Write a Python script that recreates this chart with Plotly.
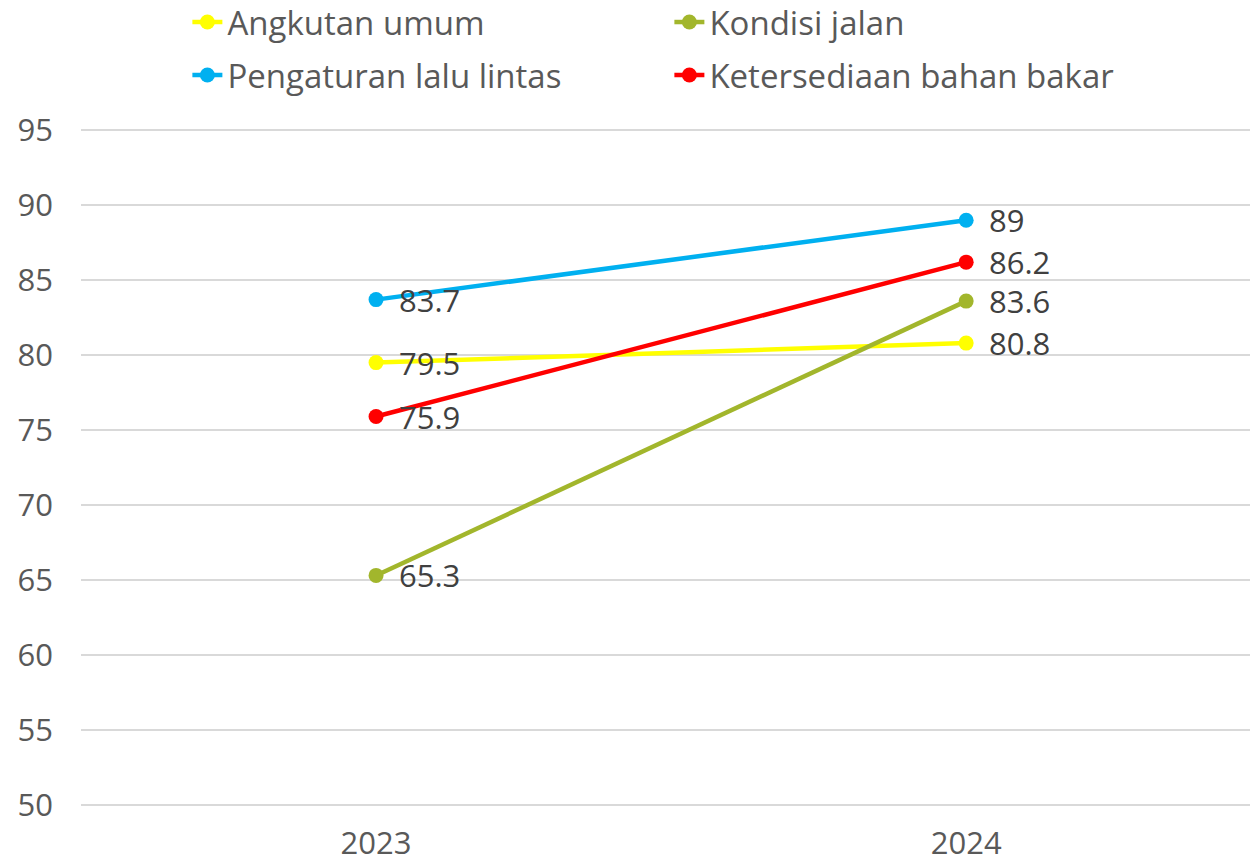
import plotly.graph_objects as go

years = ["2023", "2024"]
series_names = ["Angkutan umum", "Kondisi jalan", "Pengaturan lalu lintas", "Ketersediaan bahan bakar"]
angkutan_umum = [79.5, 80.8]
kondisi_jalan = [65.3, 83.6]
pengaturan_lalu_lintas = [83.7, 89]
ketersediaan_bahan_bakar = [75.9, 86.2]
colors = ["#FFFF00", "#A2B62C", "#00B0F0", "#FF0000"]
legend_groups = ["legend", "legend", "legend2", "legend2"]
y_ticks = [50, 55, 60, 65, 70, 75, 80, 85, 90, 95]

values = [angkutan_umum, kondisi_jalan, pengaturan_lalu_lintas, ketersediaan_bahan_bakar]
FONT = "Open Sans, sans-serif"
FS = 31
xpos = list(range(len(years)))

fig = go.Figure()
for name, vals, col, lg in zip(series_names, values, colors, legend_groups):
    fig.add_trace(go.Scatter(
        x=xpos, y=vals, name=name, mode="lines+markers",
        line=dict(color=col, width=4.5),
        marker=dict(color=col, size=15),
        hoverinfo="skip", legend=lg, cliponaxis=False,
    ))
    for xi, v in zip(xpos, vals):
        fig.add_annotation(
            x=xi, y=v, text=f"{v:g}", showarrow=False,
            xanchor="left", yanchor="middle", xshift=21, yshift=0,
            font=dict(family=FONT, size=FS, color="#404040"),
        )

legend_common = dict(
    orientation="h", xanchor="left", yanchor="middle",
    entrywidth=437, entrywidthmode="pixels",
    font=dict(family=FONT, size=33, color="#595959"),
    itemwidth=30, bgcolor="rgba(0,0,0,0)",
)

fig.update_layout(
    width=1250, height=862,
    margin=dict(l=81, r=0, t=128, b=55, autoexpand=False),
    paper_bgcolor="white", plot_bgcolor="white",
    font=dict(family=FONT, color="#595959", size=FS),
    showlegend=True,
    legend=dict(x=0.091, y=1.156, **legend_common),
    legend2=dict(x=0.091, y=1.078, **legend_common),
    xaxis=dict(
        range=[-0.5, 1.481], tickvals=xpos, ticktext=years,
        showgrid=False, zeroline=False, showline=False,
        tickfont=dict(family=FONT, size=FS, color="#595959"),
        ticklabelstandoff=15,
    ),
    yaxis=dict(
        range=[49.85, 95.15], tickvals=y_ticks, showgrid=True,
        gridcolor="#D9D9D9", gridwidth=2, zeroline=False, showline=False,
        tickfont=dict(family=FONT, size=FS, color="#595959"),
        ticklabelstandoff=27,
    ),
)

fig.write_html(
    "out.html",
    config={"displayModeBar": False},
    post_script="document.body.style.margin='0';document.body.style.overflow='hidden';",
)
